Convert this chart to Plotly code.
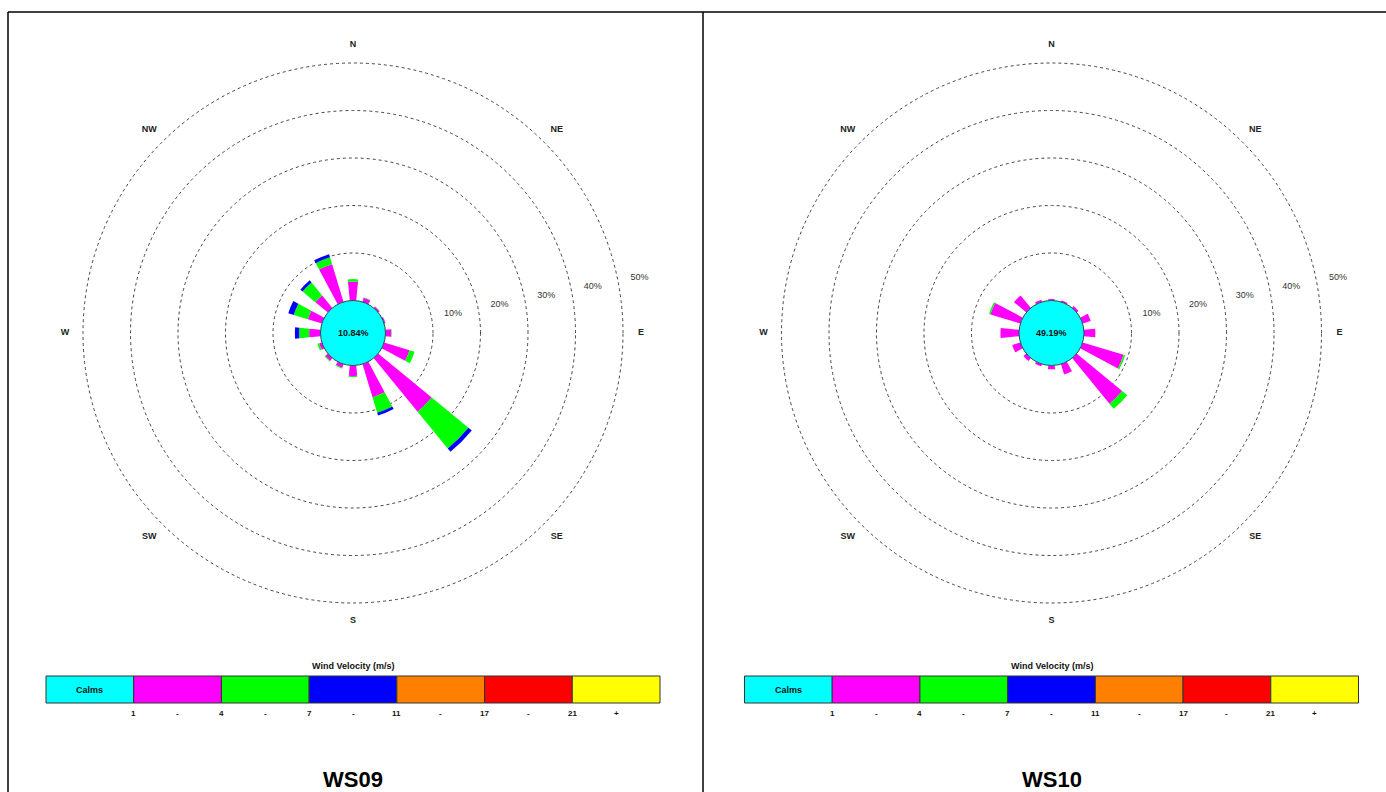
import plotly.graph_objects as go

W, H = 1386, 792

directions = ["N", "NNE", "NE", "ENE", "E", "ESE", "SE", "SSE",
              "S", "SSW", "SW", "WSW", "W", "WNW", "NW", "NNW"]
dir_angles = [i * 22.5 for i in range(16)]

speed_bins = ["1 - 4", "4 - 7", "7 - 11", "11 - 17", "17 - 21", "21+"]
bin_colors = ["#FF00FF", "#00FF00", "#0000FF", "#FF8000", "#FF0000", "#FFFF00"]

# WS09 frequencies (%) per direction and speed class
ws09_1_4 = [4.0, 0.9, 0.4, 0.3, 1.2, 5.6, 14.6, 7.3, 2.2, 0.8, 0.7, 0.6, 2.4, 3.1, 3.4, 8.3]
ws09_4_7 = [0.5, 0.1, 0.05, 0.05, 0.1, 1.1, 10.0, 3.4, 0.2, 0.2, 0.2, 0.4, 2.1, 3.1, 3.5, 1.5]
ws09_7_11 = [0, 0, 0, 0, 0, 0, 0.9, 0.6, 0, 0, 0, 0, 0.9, 1.2, 0.6, 0.7]
ws09_calms = "10.84%"

# WS10 frequencies (%)
ws10_1_4 = [0.3, 0.3, 0.5, 1.8, 2.4, 9.0, 12.4, 2.3, 0.8, 0.5, 0.8, 1.8, 3.9, 6.6, 3.4, 0.5]
ws10_4_7 = [0, 0, 0, 0, 0, 0.35, 1.4, 0, 0, 0, 0, 0, 0, 0.3, 0, 0]
ws10_7_11 = [0] * 16
ws10_calms = "49.19%"

ring_vals = [10, 20, 30, 40, 50]
ring_labels = ["10%", "20%", "30%", "40%", "50%"]
compass_labels = ["N", "NE", "E", "SE", "S", "SW", "W", "NW"]
compass_angles = [0, 45, 90, 135, 180, 225, 270, 315]

legend_labels = ["Calms", "", "", "", "", "", ""]
legend_colors = ["#00FFFF"] + bin_colors
legend_ticks = ["1", "-", "4", "-", "7", "-", "11", "-", "17", "-", "21", "+"]

titles = ["WS09", "WS10"]

# ---- geometry (pixels) ----
CALM_R = 32.5
PX_PER_PCT = 4.75
RMAX = 56.0
R_PX = CALM_R + PX_PER_PCT * RMAX
centers = [(353.0, 333.0), (1051.5, 333.0)]

FONT = "Arial, Liberation Sans, sans-serif"

def px(x):
    return x / W

def py(y):
    return 1 - y / H

def note(x, y, text, size, color="#111111"):
    return dict(x=px(x), y=py(y), xref="paper", yref="paper", text=text,
                showarrow=False, xanchor="center", yanchor="middle",
                font=dict(family=FONT, size=size, color=color))

fig = go.Figure()
panels = [
    (ws09_1_4, ws09_4_7, ws09_7_11, ws09_calms),
    (ws10_1_4, ws10_4_7, ws10_7_11, ws10_calms),
]

shapes = []
annotations = []

for i, (s1, s2, s3, calm) in enumerate(panels):
    pname = "polar" if i == 0 else "polar2"
    for vals, name, col in zip([s1, s2, s3], speed_bins[:3], bin_colors[:3]):
        fig.add_trace(go.Barpolar(
            r=vals, theta=dir_angles, width=11.25, name=name,
            marker=dict(color=col, line=dict(width=0)),
            subplot=pname, showlegend=False,
        ))
    # ring percentage labels
    fig.add_trace(go.Scatterpolar(
        r=[v + 4.6 for v in ring_vals], theta=[79] * len(ring_vals),
        text=ring_labels, mode="text", subplot=pname, showlegend=False,
        textfont=dict(family=FONT, size=9, color="#333333"), cliponaxis=False,
    ))
    # compass labels
    fig.add_trace(go.Scatterpolar(
        r=[53.8] * len(compass_labels), theta=compass_angles,
        text=["<b>%s</b>" % t for t in compass_labels], mode="text",
        subplot=pname, showlegend=False,
        textfont=dict(family=FONT, size=9, color="#222222"), cliponaxis=False,
    ))

    cx, cy = centers[i]
    # calm circle
    shapes.append(dict(type="circle", xref="paper", yref="paper",
                       x0=px(cx - CALM_R), x1=px(cx + CALM_R),
                       y0=py(cy + CALM_R), y1=py(cy - CALM_R),
                       fillcolor="#00FFFF", line=dict(color="#2a4a4a", width=1)))
    annotations.append(note(cx, cy, "<b>%s</b>" % calm, 9))

    # legend bar
    lx0, lx1 = cx - 307, cx + 307
    bw = (lx1 - lx0) / 7
    for k, (lab, colr) in enumerate(zip(legend_labels, legend_colors)):
        shapes.append(dict(type="rect", xref="paper", yref="paper",
                           x0=px(lx0 + k * bw), x1=px(lx0 + (k + 1) * bw),
                           y0=py(703), y1=py(676), fillcolor=colr,
                           line=dict(color="#333333", width=1)))
        if lab:
            annotations.append(note(lx0 + (k + 0.5) * bw, 690, "<b>%s</b>" % lab, 9))
    for j, t in enumerate(legend_ticks):
        xpos = lx0 + bw * (1 + j * 0.5)
        annotations.append(note(xpos, 713, "<b>%s</b>" % t, 8))
    annotations.append(note(cx, 666, "<b>Wind Velocity (m/s)</b>", 9))
    annotations.append(note(cx, 779, "<b>%s</b>" % titles[i], 22, "#000000"))

# panel borders
shapes.append(dict(type="line", xref="paper", yref="paper", x0=px(8), x1=1,
                   y0=py(12), y1=py(12), line=dict(color="black", width=1.5)))
shapes.append(dict(type="line", xref="paper", yref="paper", x0=px(8), x1=px(8),
                   y0=py(12), y1=0, line=dict(color="black", width=1.5)))
shapes.append(dict(type="line", xref="paper", yref="paper", x0=px(703), x1=px(703),
                   y0=py(12), y1=0, line=dict(color="black", width=1.5)))

def polar_layout(cx, cy):
    return dict(
        domain=dict(x=[px(cx - R_PX), px(cx + R_PX)],
                    y=[py(cy + R_PX), py(cy - R_PX)]),
        hole=CALM_R / R_PX,
        bgcolor="rgba(0,0,0,0)",
        barmode="stack",
        radialaxis=dict(range=[0, RMAX], tickvals=ring_vals, showticklabels=False,
                        ticks="", showline=False, gridcolor="#444444",
                        griddash="dot", gridwidth=1),
        angularaxis=dict(rotation=90, direction="clockwise", showgrid=False,
                         showline=False, showticklabels=False, ticks=""),
    )

fig.update_layout(
    width=W, height=H, autosize=False,
    margin=dict(l=0, r=0, t=0, b=0),
    paper_bgcolor="white", plot_bgcolor="white",
    polar=polar_layout(*centers[0]),
    polar2=polar_layout(*centers[1]),
    shapes=shapes, annotations=annotations,
    showlegend=False,
)

fig.write_html("out.html", config={"displayModeBar": False},
               post_script="document.body.style.margin='0px';document.body.style.overflow='hidden';")
